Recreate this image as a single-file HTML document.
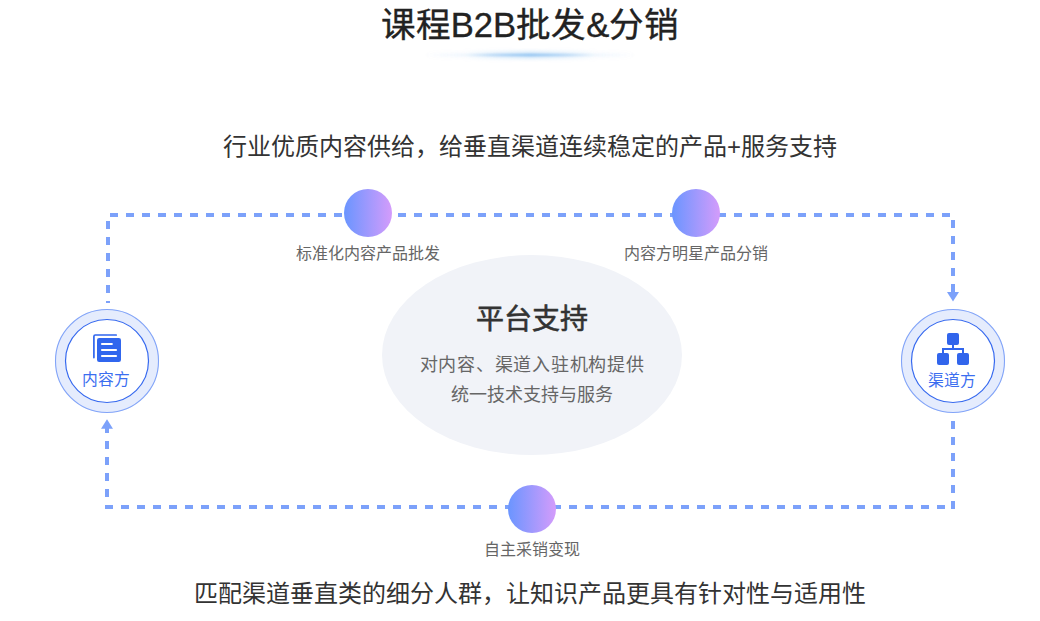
<!DOCTYPE html>
<html lang="zh-CN">
<head>
<meta charset="utf-8">
<style>
html,body{margin:0;padding:0;background:#fff;}
body{width:1040px;height:621px;position:relative;overflow:hidden;font-family:"Liberation Sans",sans-serif;}
.t{position:absolute;white-space:nowrap;text-align:center;line-height:1;}
#title{left:330px;width:400px;top:8.3px;font-size:34.6px;color:#222;-webkit-text-stroke:0.35px #222;}
#sub{left:130px;width:800px;top:135px;font-size:24px;color:#333;}
#bot{left:130px;width:800px;top:582px;font-size:24px;color:#333;}
.lbl{font-size:16px;color:#666;width:200px;}
#l1{left:268px;top:246px;}
#l2{left:596px;top:246px;}
#l3{left:432px;top:542px;}
#pt{left:432px;width:200px;top:306px;font-size:28px;color:#333;-webkit-text-stroke:0.6px #333;}
#d1{left:382px;width:300px;top:356px;font-size:18px;color:#666;letter-spacing:0.75px;}
#d2{left:382px;width:300px;top:385.7px;font-size:18px;color:#666;}
.side{font-size:15.8px;color:#3b6ef0;width:80px;}
#s1{left:65.6px;top:372.3px;}
#s2{left:911.6px;top:372.6px;}
svg{position:absolute;left:0;top:0;}
</style>
</head>
<body>
<svg width="1040" height="621" viewBox="0 0 1040 621">
<defs>
<linearGradient id="g" x1="0" x2="1" y1="0" y2="0">
<stop offset="0" stop-color="#6a95ff"/>
<stop offset="1" stop-color="#d49cfb"/>
</linearGradient>
<linearGradient id="ul" x1="0" x2="1" y1="0" y2="0">
<stop offset="0" stop-color="#8cc0f0" stop-opacity="0"/>
<stop offset="0.2" stop-color="#8cc0f0" stop-opacity="0.12"/>
<stop offset="0.36" stop-color="#8cc0f0" stop-opacity="0.65"/>
<stop offset="0.5" stop-color="#8cc0f0" stop-opacity="1"/>
<stop offset="0.64" stop-color="#8cc0f0" stop-opacity="0.65"/>
<stop offset="0.8" stop-color="#8cc0f0" stop-opacity="0.12"/>
<stop offset="1" stop-color="#8cc0f0" stop-opacity="0"/>
</linearGradient>
<filter id="blur" x="-20%" y="-500%" width="140%" height="1100%"><feGaussianBlur stdDeviation="0.8"/></filter>
<filter id="blur2" x="-20%" y="-500%" width="140%" height="1100%"><feGaussianBlur stdDeviation="2.2"/></filter>
</defs>
<!-- underline glow -->
<rect x="424" y="52" width="212" height="6" fill="url(#ul)" opacity="0.5" filter="url(#blur2)"/>
<rect x="424" y="54" width="212" height="2" fill="url(#ul)" filter="url(#blur)"/>
<!-- ellipse -->
<ellipse cx="532" cy="355" rx="150" ry="100" fill="#f1f3f8"/>
<!-- dashed frame -->
<g stroke="#7ca1fa" stroke-width="4" fill="none">
<line x1="110" y1="215" x2="950" y2="215" stroke-dasharray="8 8"/>
<line x1="108" y1="221" x2="108" y2="303" stroke-dasharray="8 8"/>
<line x1="953" y1="220" x2="953" y2="276" stroke-dasharray="8 8"/>
<line x1="953" y1="284" x2="953" y2="292"/>
<line x1="953" y1="421" x2="953" y2="509" stroke-dasharray="8 8"/>
<line x1="105" y1="507" x2="945" y2="507" stroke-dasharray="8 8"/>
<line x1="107" y1="441" x2="107" y2="497" stroke-dasharray="8 8"/>
<line x1="107" y1="428" x2="107" y2="433"/>
</g>
<polygon points="947,292 959,292 953,301.5" fill="#7ca1fa"/>
<polygon points="101,428.7 113,428.7 107,419.2" fill="#7ca1fa"/>
<!-- gradient dots -->
<circle cx="368" cy="213" r="24" fill="url(#g)"/>
<circle cx="696" cy="213" r="24" fill="url(#g)"/>
<circle cx="532" cy="509" r="24" fill="url(#g)"/>
<!-- side circles -->
<g>
<circle cx="107" cy="361" r="47" fill="none" stroke="#e5ecfd" stroke-width="10"/>
<circle cx="107" cy="361" r="51.5" fill="none" stroke="#82a4f8" stroke-width="1.1"/>
<circle cx="107" cy="361" r="41.5" fill="#fff" stroke="#3669ef" stroke-width="1.2"/>
<circle cx="953" cy="361" r="47" fill="none" stroke="#e5ecfd" stroke-width="10"/>
<circle cx="953" cy="361" r="51.5" fill="none" stroke="#82a4f8" stroke-width="1.1"/>
<circle cx="953" cy="361" r="41.5" fill="#fff" stroke="#3669ef" stroke-width="1.2"/>
</g>
<!-- doc icon -->
<path d="M93.9 357.6 V336.4 Q93.9 335 95.3 335 H116.2" fill="none" stroke="#3066ee" stroke-width="1.7" stroke-linecap="round"/>
<rect x="97" y="338" width="24" height="24" rx="2.2" fill="#3066ee"/>
<g stroke="#fff" stroke-width="2.2" stroke-linecap="round">
<line x1="102" y1="344" x2="111.8" y2="344"/>
<line x1="102" y1="350" x2="116" y2="350"/>
<line x1="102" y1="356" x2="116" y2="356"/>
</g>
<!-- org icon -->
<g fill="#3165ec">
<rect x="947" y="333" width="12" height="12" rx="2"/>
<rect x="952" y="344" width="2" height="5"/>
<rect x="942" y="348" width="22" height="2"/>
<rect x="942" y="348" width="2" height="6"/>
<rect x="962" y="348" width="2" height="6"/>
<rect x="937" y="353" width="12" height="12" rx="2"/>
<rect x="957" y="353" width="12" height="12" rx="2"/>
</g>
</svg>
<div class="t" id="title">课程B2B批发&amp;分销</div>
<div class="t" id="sub">行业优质内容供给，给垂直渠道连续稳定的产品+服务支持</div>
<div class="t lbl" id="l1">标准化内容产品批发</div>
<div class="t lbl" id="l2">内容方明星产品分销</div>
<div class="t" id="pt">平台支持</div>
<div class="t" id="d1">对内容、渠道入驻机构提供</div>
<div class="t" id="d2">统一技术支持与服务</div>
<div class="t side" id="s1">内容方</div>
<div class="t side" id="s2">渠道方</div>
<div class="t lbl" id="l3">自主采销变现</div>
<div class="t" id="bot">匹配渠道垂直类的细分人群，让知识产品更具有针对性与适用性</div>
</body>
</html>
